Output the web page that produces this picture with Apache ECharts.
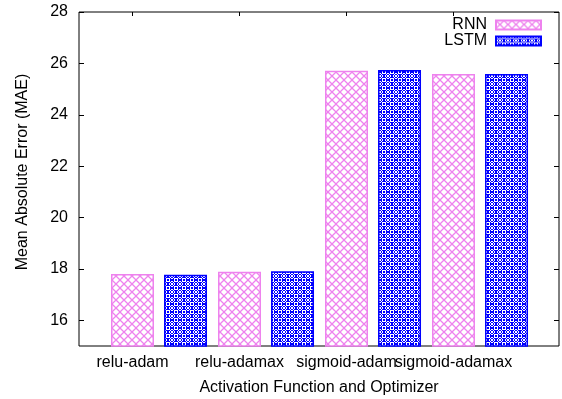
<!DOCTYPE html>
<html><head><meta charset="utf-8">
<script src="https://cdn.jsdelivr.net/npm/echarts@6/dist/echarts.min.js"></script>
<style>html,body{margin:0;padding:0;background:#fff}#c{width:562px;height:399px}</style>
</head><body><div id="c"></div>
<script>
const categories = ['relu-adam', 'relu-adamax', 'sigmoid-adam', 'sigmoid-adamax'];
const rnnValues = [17.80, 17.89, 25.71, 25.59];
const lstmValues = [17.77, 17.91, 25.74, 25.59];
const yTickValues = [16, 18, 20, 22, 24, 26, 28];
const seriesNames = ['RNN', 'LSTM'];

const FONT = 'Liberation Sans';
const VIOLET = '#ee82ee';
const BLUE = '#0000ff';

function makeRnnPattern() {
  const c = document.createElement('canvas');
  c.width = 8; c.height = 8;
  const g = c.getContext('2d');
  g.fillStyle = '#fff'; g.fillRect(0, 0, 8, 8);
  g.strokeStyle = VIOLET; g.lineWidth = 1.3;
  g.beginPath();
  g.moveTo(-1, -1); g.lineTo(9, 9);
  g.moveTo(-1, 9); g.lineTo(9, -1);
  g.stroke();
  return c;
}
function makeLstmPattern() {
  const rows = [
    'B.BBBB.B',
    '..B..B..',
    'BB.BB.BB',
    'B.B..B.B',
    'B.B..B.B',
    'BB.BB.BB',
    '..B..B..',
    'B.BBBB.B'
  ];
  const c = document.createElement('canvas');
  c.width = 8; c.height = 8;
  const g = c.getContext('2d');
  g.fillStyle = '#fff'; g.fillRect(0, 0, 8, 8);
  g.fillStyle = BLUE;
  rows.forEach((r, y) => { for (let x = 0; x < 8; x++) if (r[x] === 'B') g.fillRect(x, y, 1, 1); });
  return c;
}

const chart = echarts.init(document.getElementById('c'), null, {renderer: 'canvas'});
const txt = {fontFamily: FONT, fontSize: 16, color: '#000'};
// one spare empty slot at the right so that the last cluster fits inside the bar grid
const axisCats = categories.concat(['']);
const lastIdx = categories.length;

chart.setOption({
  animation: false,
  backgroundColor: '#fff',
  textStyle: {fontFamily: FONT},
  grid: [
    {left: 79, right: 3, top: 12, bottom: 53, show: true, borderColor: '#000', borderWidth: 1,
     backgroundColor: 'transparent', containLabel: false, outerBoundsMode: 'none'},
    {left: 79, width: 535, top: 12, bottom: 53, containLabel: false, outerBoundsMode: 'none'}
  ],
  legend: {
    data: seriesNames,
    orient: 'vertical',
    right: 15, top: 12,
    align: 'right',
    icon: 'rect',
    itemWidth: 45, itemHeight: 9, itemGap: 0,
    textStyle: Object.assign({}, txt, {padding: [0, 4, 0, 0]}),
    selectedMode: false
  },
  xAxis: [
    {gridIndex: 0, type: 'value', min: 0, max: 1,
     axisLine: {show: false}, axisTick: {show: false}, axisLabel: {show: false}, splitLine: {show: false},
     name: 'Activation Function and Optimizer', nameLocation: 'middle', nameGap: 34, nameTextStyle: txt},
    {gridIndex: 1, type: 'category', data: axisCats,
     axisLine: {show: false}, axisTick: {show: false},
     axisLabel: Object.assign({}, txt, {margin: 9, interval: 0})},
    {gridIndex: 1, type: 'category', position: 'top', data: axisCats,
     axisLine: {show: false},
     axisTick: {show: true, inside: true, alignWithLabel: true, length: 4,
                interval: (i) => i < lastIdx, lineStyle: {color: '#000', width: 1}},
     axisLabel: {show: false}}
  ],
  yAxis: [
    {gridIndex: 0, type: 'value', min: 15, max: 28,
     axisLine: {show: false},
     axisTick: {show: true, inside: true, length: 5, customValues: yTickValues, lineStyle: {color: '#000'}},
     axisLabel: Object.assign({}, txt, {margin: 11, customValues: yTickValues}),
     splitLine: {show: false},
     name: 'Mean Absolute Error (MAE)', nameLocation: 'middle', nameGap: 48,
     nameTextStyle: Object.assign({}, txt, {padding: [0, 0, 0, 14]})},
    {gridIndex: 0, type: 'value', min: 15, max: 28, position: 'right',
     axisLine: {show: false},
     axisTick: {show: true, inside: true, length: 5, customValues: yTickValues, lineStyle: {color: '#000'}},
     axisLabel: {show: false}, splitLine: {show: false}},
    {gridIndex: 1, type: 'value', min: 15, max: 28, show: false, splitLine: {show: false}}
  ],
  series: [
    {name: '_pad', type: 'bar', xAxisIndex: 1, yAxisIndex: 2, data: categories.map(() => null),
     barWidth: 43, barGap: '23.3%', silent: true},
    {name: seriesNames[0], type: 'bar', xAxisIndex: 1, yAxisIndex: 2, data: rnnValues,
     barWidth: 43, barGap: '23.3%',
     itemStyle: {color: {image: makeRnnPattern(), repeat: 'repeat'}, borderColor: VIOLET, borderWidth: 1.5}},
    {name: seriesNames[1], type: 'bar', xAxisIndex: 1, yAxisIndex: 2, data: lstmValues,
     barWidth: 43, barGap: '23.3%',
     itemStyle: {color: {image: makeLstmPattern(), repeat: 'repeat'}, borderColor: BLUE, borderWidth: 1.5}}
  ]
});
</script>
</body></html>
